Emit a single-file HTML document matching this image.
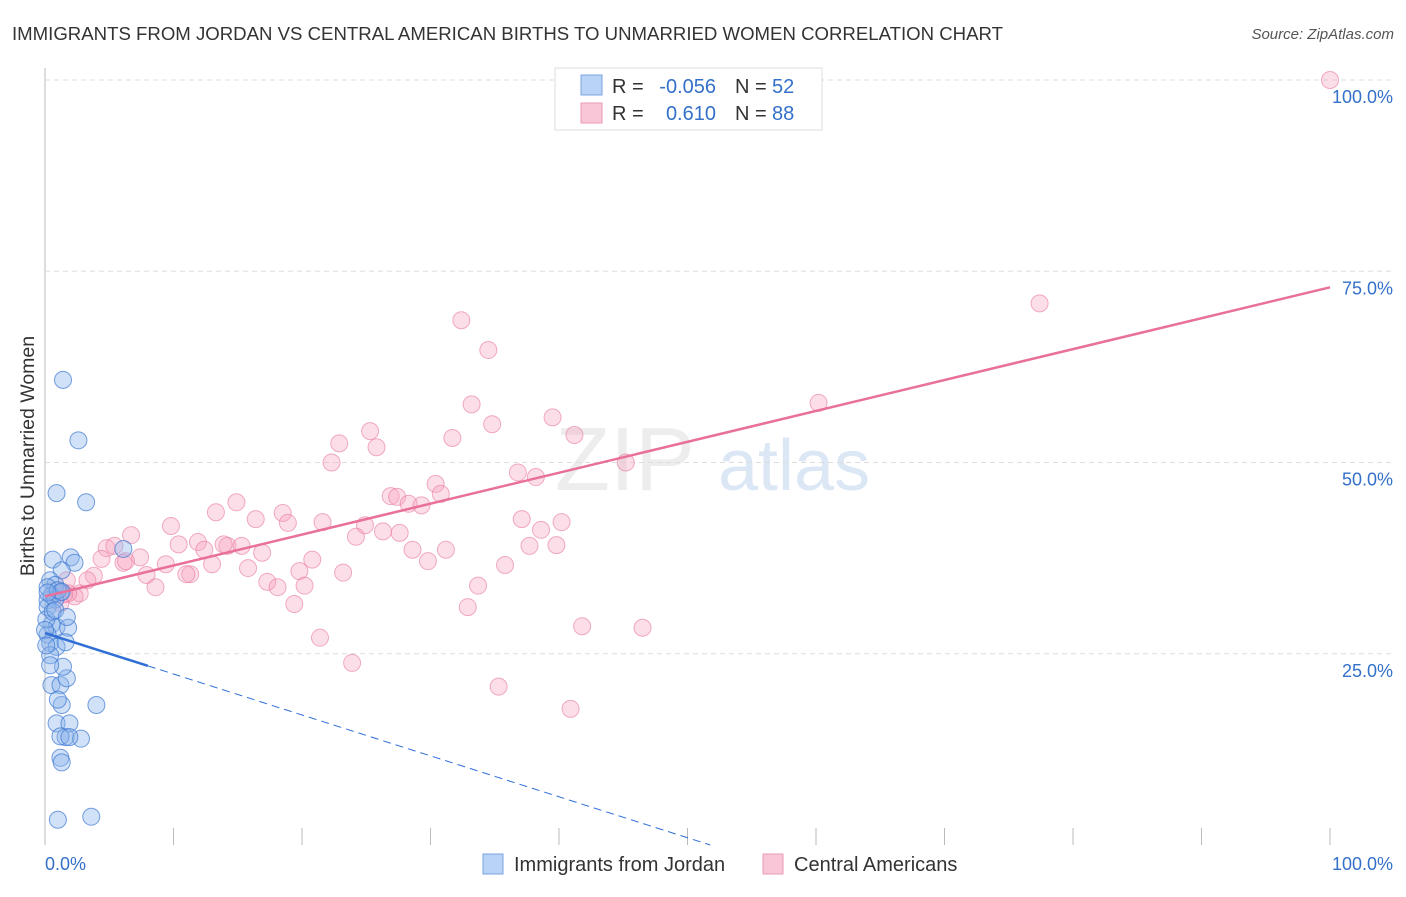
<!DOCTYPE html>
<html><head><meta charset="utf-8"><style>
body{margin:0;background:#fff;font-family:"Liberation Sans",sans-serif;}
svg text{font-family:"Liberation Sans",sans-serif;}
</style></head><body>
<svg id="chart" width="1406" height="892" xmlns="http://www.w3.org/2000/svg">
<text x="12" y="40" font-size="18" fill="#333" textLength="991" lengthAdjust="spacingAndGlyphs">IMMIGRANTS FROM JORDAN VS CENTRAL AMERICAN BIRTHS TO UNMARRIED WOMEN CORRELATION CHART</text>
<text x="1394" y="39" font-size="15" fill="#555" font-style="italic" text-anchor="end">Source: ZipAtlas.com</text>
<text transform="translate(34,456) rotate(-90)" font-size="19.5" fill="#333" text-anchor="middle">Births to Unmarried Women</text>
<g opacity="0.35"><text x="555" y="490" font-size="90" fill="#ccc" font-family="Liberation Serif">ZIP</text><text x="718" y="490" font-size="72" fill="#9dbbe3">atlas</text></g>
<g id="grid"></g><g id="marks"></g><g id="lines"></g>
<g>
<rect x="555" y="68" width="267" height="62" fill="#fff" stroke="#ddd"/>
<rect x="581" y="75" width="21" height="20" fill="#b8d3f5" stroke="#7aa6e0"/>
<rect x="581" y="103" width="21" height="20" fill="#f8c6d6" stroke="#eb9ab5"/>
<text x="612" y="93" font-size="20" fill="#333">R =</text>
<text x="716" y="93" font-size="20" fill="#3470c9" text-anchor="end">-0.056</text>
<text x="735" y="93" font-size="20" fill="#333">N =</text>
<text x="772" y="93" font-size="20" fill="#3470c9">52</text>
<text x="612" y="120" font-size="20" fill="#333">R =</text>
<text x="716" y="120" font-size="20" fill="#3470c9" text-anchor="end">0.610</text>
<text x="735" y="120" font-size="20" fill="#333">N =</text>
<text x="772" y="120" font-size="20" fill="#3470c9">88</text>
</g>
<g>
<rect x="483" y="854" width="20" height="20" fill="#b8d3f5" stroke="#7aa6e0"/>
<text x="514" y="871" font-size="20" fill="#333">Immigrants from Jordan</text>
<rect x="763" y="854" width="20" height="20" fill="#f8c6d6" stroke="#eb9ab5"/>
<text x="794" y="871" font-size="20" fill="#333">Central Americans</text>
</g>
</svg>
<script>
const yTicks=[25,50,75,100];
const yTickLabels=["25.0%","50.0%","75.0%","100.0%"];
const xTicks=[10,20,30,40,50,60,70,80,90,100];
const blueX=[1.4,2.6,0.9,3.2,0.6,2.0,2.3,1.3,6.1,0.4,0.8,1.2,0.2,0.5,0.8,0.2,0.5,0.9,1.8,0.2,0.4,0.9,1.6,0.4,0.5,1.2,1.7,1.4,1.3,4.0,0.9,1.9,1.6,2.8,1.2,1.2,1.3,1.0,3.6,0.2,0.1,0.6,1.0,1.3,0.4,1.9,0.2,0.8,1.7,0.0,0.1,1.0];
const blueY=[60.8,52.9,46.0,44.8,37.3,37.6,36.9,35.9,38.7,34.6,34.0,33.0,32.0,32.6,32.1,31.1,28.8,28.5,28.4,27.5,26.4,25.9,26.5,24.8,20.9,20.9,21.8,23.3,18.3,18.3,15.9,15.9,14.1,13.9,14.2,11.4,10.8,3.3,3.7,33.7,29.5,30.5,33.3,33.1,23.5,14.1,33.0,30.7,29.8,28.1,26.1,19.0];
const pinkX=[100,77.4,32.4,34.5,60.2,33.2,25.3,34.8,39.5,41.2,31.7,22.9,25.8,22.3,45.2,36.8,38.2,30.4,30.8,26.9,27.4,28.3,29.3,14.9,13.3,18.5,9.8,16.4,18.9,21.6,24.9,37.1,40.2,38.6,26.3,24.2,27.6,6.7,16.9,10.4,11.9,12.4,14.2,15.3,13.9,37.7,39.8,4.8,5.4,7.4,6.1,6.3,9.4,4.4,13.0,20.8,28.6,31.2,29.8,35.8,15.8,19.8,23.2,7.9,11.3,3.8,3.3,1.7,17.3,11.0,33.7,8.6,20.2,18.1,2.7,2.3,1.2,1.8,19.4,32.9,41.8,46.5,21.4,23.9,35.3,40.9,1.5,0.8];
const pinkY=[100,70.8,68.6,64.7,57.8,57.6,54.1,55.0,55.9,53.6,53.2,52.5,52.0,50.0,50.0,48.7,48.1,47.2,45.9,45.6,45.5,44.6,44.4,44.8,43.5,43.4,41.7,42.6,42.1,42.2,41.8,42.6,42.2,41.2,41.0,40.3,40.8,40.5,38.2,39.3,39.6,38.6,39.1,39.1,39.3,39.1,39.2,38.8,39.1,37.6,36.9,37.1,36.7,37.4,36.7,37.3,38.6,38.6,37.1,36.6,36.2,35.8,35.6,35.3,35.4,35.2,34.6,34.6,34.4,35.4,33.9,33.7,33.9,33.7,32.9,32.5,31.6,32.9,31.5,31.1,28.6,28.4,27.1,23.8,20.7,17.8,32.8,33.3];
const pinkFit=[32.5,72.9];
const blueFit=[27.7,-0.535];
const X=v=>45+v*12.85, Y=v=>845-v*7.65;
const ns="http://www.w3.org/2000/svg";
function mk(t,a,p){const e=document.createElementNS(ns,t);for(const k in a)e.setAttribute(k,a[k]);p.appendChild(e);return e;}
const grid=document.getElementById('grid'),marks=document.getElementById('marks'),lines=document.getElementById('lines');
const ax=mk('line',{x1:45,y1:68,x2:45,y2:845,stroke:'#bbb'},grid);


yTicks.forEach((t,i)=>{
 const g=mk('line',{x1:45,y1:Y(t),x2:1394,y2:Y(t),stroke:'#ddd','stroke-dasharray':'5,4'},grid);
 
 
 const l=mk('text',{x:1393,y:Y(t)+23,'font-size':18,fill:'#3470c9','text-anchor':'end'},grid);
 l.textContent=yTickLabels[i];
 
 
});
xTicks.forEach(t=>{
 const g=mk('line',{x1:X(t),y1:828,x2:X(t),y2:845,stroke:'#bbb'},grid);
 
 
});
const x0=mk('text',{x:45,y:870,'font-size':18,fill:'#3470c9'},grid);x0.textContent='0.0%';


const x1=mk('text',{x:1393,y:870,'font-size':18,fill:'#3470c9','text-anchor':'end'},grid);x1.textContent='100.0%';


pinkX.forEach((v,i)=>{
 const c=mk('circle',{cx:X(v),cy:Y(pinkY[i]),r:8.5,fill:'rgba(245,160,190,0.35)',stroke:'rgba(232,120,160,0.6)','stroke-width':1},marks);
 
 
});
blueX.forEach((v,i)=>{
 const c=mk('circle',{cx:X(v),cy:Y(blueY[i]),r:8.5,fill:'rgba(140,180,235,0.4)',stroke:'rgba(60,120,210,0.7)','stroke-width':1},marks);
 
 
});
const pl=mk('line',{x1:X(0),y1:Y(pinkFit[0]),x2:X(100),y2:Y(pinkFit[1]),stroke:'#e8709a','stroke-width':2.5},lines);


const bl=mk('line',{x1:X(0),y1:Y(blueFit[0]),x2:X(8),y2:Y(blueFit[0]+blueFit[1]*8),stroke:'#2f6fd6','stroke-width':2.5},lines);


const xe=-blueFit[0]/blueFit[1];
const bd=mk('line',{x1:X(8),y1:Y(blueFit[0]+blueFit[1]*8),x2:X(xe),y2:Y(0),stroke:'#2f6fd6','stroke-width':1,'stroke-dasharray':'8,5'},lines);


</script>
</body></html>
